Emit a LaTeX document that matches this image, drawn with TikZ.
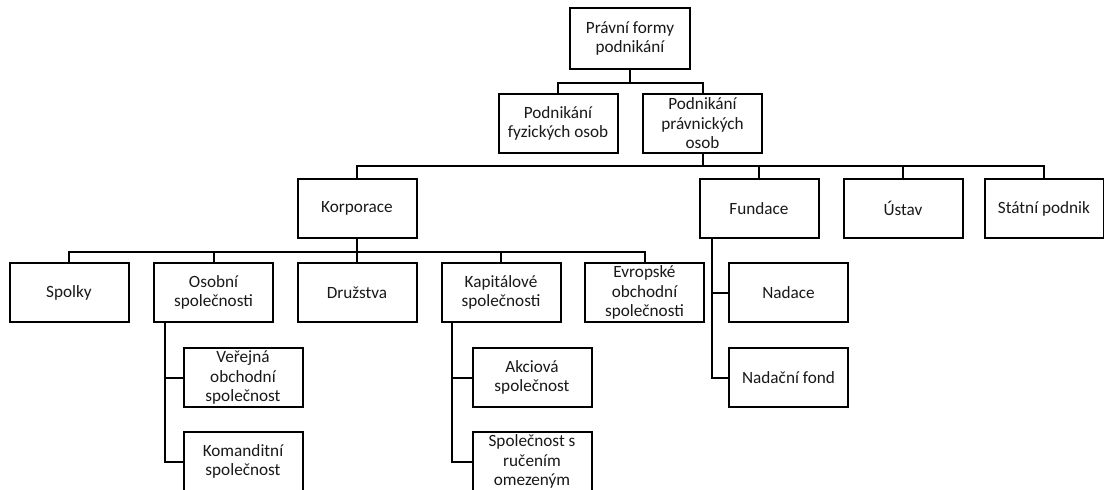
\documentclass[tikz,border=0pt]{standalone}
\usepackage{fontspec}
\setmainfont{Carlito}
\begin{document}
\begin{tikzpicture}[x=1pt,y=-1pt,
  box/.style={draw=black,line width=2pt,rectangle,minimum width=119pt,minimum height=59pt,
    align=center,inner sep=1pt,font=\fontsize{17.2}{19.5}\selectfont,text=black!90},
  conn/.style={draw=black,line width=2pt}]
\clip (0,0) rectangle (1104,490);
\fill[white] (0,0) rectangle (1104,490);
% level 0
\node[box,minimum width=120pt,minimum height=61pt] (top) at (630,38.5) {Právní formy\\podnikání};
% level 1
\node[box] (pfo) at (558,123.5) {Podnikání\\fyzických osob};
\node[box] (ppo) at (702.5,123.5) {Podnikání\\právnických\\osob};
% level 2
\node[box] (korp) at (357,208.5) {Korporace};
\node[box] (fund) at (759,208.5) {Fundace};
\node[box] (ustav) at (903,208.5) {Ústav};
\node[box] (statni) at (1044,208.5) {Státní podnik};
% level 3
\node[box] (spolky) at (69,292.5) {Spolky};
\node[box] (osobni) at (213.5,292.5) {Osobní\\společnosti};
\node[box] (druzstva) at (357,292.5) {Družstva};
\node[box] (kapital) at (501,292.5) {Kapitálové\\společnosti};
\node[box] (evrop) at (644.5,292.5) {Evropské\\obchodní\\společnosti};
\node[box] (nadace) at (788.5,292.5) {Nadace};
\node[box] (nfond) at (788.5,377.5) {Nadační fond};
% level 4
\node[box] (vos) at (243,377.5) {Veřejná\\obchodní\\společnost};
\node[box] (ks) at (243,461.5) {Komanditní\\společnost};
\node[box] (as) at (532,377.5) {Akciová\\společnost};
\node[box] (sro) at (532,461.5) {Společnost s\\ručením\\omezeným};
% connectors
\draw[conn] (top.south) -- ++(0,13) -| (pfo.north);
\draw[conn] (top.south) -- ++(0,13) -| (ppo.north);
\foreach \c in {korp,fund,ustav,statni}
  \draw[conn] (ppo.south) -- ++(0,12) -| (\c.north);
\foreach \c in {spolky,osobni,druzstva,kapital,evrop}
  \draw[conn] (korp.south) -- ++(0,13) -| (\c.north);
\draw[conn] ([xshift=12pt]osobni.south west) |- (vos.west);
\draw[conn] ([xshift=12pt]osobni.south west) |- (ks.west);
\draw[conn] ([xshift=11pt]kapital.south west) |- (as.west);
\draw[conn] ([xshift=11pt]kapital.south west) |- (sro.west);
\draw[conn] ([xshift=13pt]fund.south west) |- (nadace.west);
\draw[conn] ([xshift=13pt]fund.south west) |- (nfond.west);
\end{tikzpicture}
\end{document}
